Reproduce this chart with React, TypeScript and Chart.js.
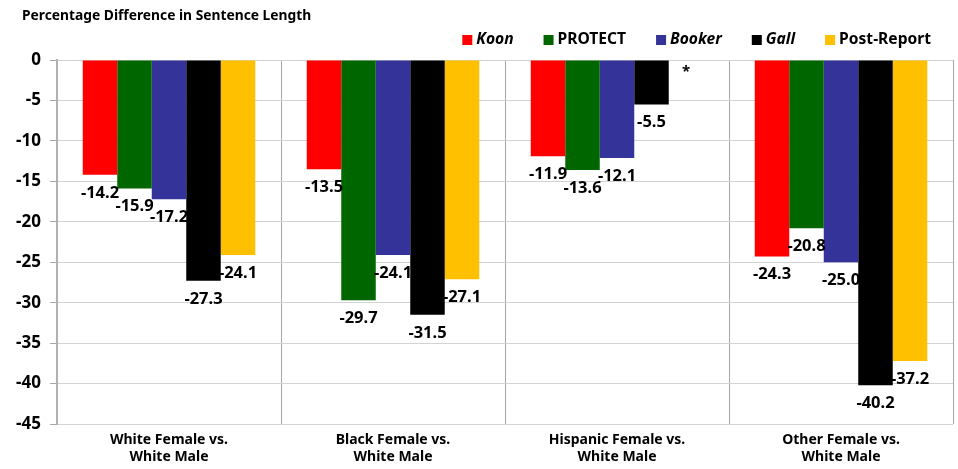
import React, { useEffect, useRef } from "react";
import { Chart, registerables } from "chart.js";

Chart.register(...registerables);

const categories: string[][] = [
  ["White Female vs.", "White Male"],
  ["Black Female vs.", "White Male"],
  ["Hispanic Female vs.", "White Male"],
  ["Other Female vs.", "White Male"],
];
const koon = [-14.2, -13.5, -11.9, -24.3];
const protect = [-15.9, -29.7, -13.6, -20.8];
const booker = [-17.2, -24.1, -12.1, -25.0];
const gall = [-27.3, -31.5, -5.5, -40.2];
const postReport: (number | null)[] = [-24.1, -27.1, null, -37.2];

const seriesNames = ["Koon", "PROTECT", "Booker", "Gall", "Post-Report"];
const seriesItalic = [true, false, true, true, false];
const seriesColors = ["#FF0000", "#006600", "#333399", "#000000", "#FFC000"];
const chartTitle = "Percentage Difference in Sentence Length";
const yMin = -45;
const yMax = 0;
const yStep = 5;

const FONT = "'Noto Sans', 'DejaVu Sans', sans-serif";

const labelPlugin = {
  id: "barLabels",
  afterDatasetsDraw(chart: any) {
    const ctx = chart.ctx;
    ctx.save();
    ctx.fillStyle = "#000";
    ctx.textAlign = "center";
    ctx.textBaseline = "middle";
    const zeroY = chart.scales.y.getPixelForValue(0);
    chart.data.datasets.forEach((ds: any, di: number) => {
      const meta = chart.getDatasetMeta(di);
      meta.data.forEach((el: any, i: number) => {
        const v = ds.data[i];
        if (v === null || v === undefined) {
          ctx.font = `bold 15px ${FONT}`;
          ctx.fillText("*", el.x, zeroY + 12);
          return;
        }
        ctx.font = `bold 16.5px ${FONT}`;
        ctx.fillText(v.toFixed(1), el.x, el.y + 18);
      });
    });
    ctx.restore();
  },
  afterDraw(chart: any) {
    const ctx = chart.ctx;
    ctx.save();
    ctx.fillStyle = "#000";
    ctx.textBaseline = "middle";
    ctx.textAlign = "left";
    ctx.font = `bold 13.8px ${FONT}`;
    ctx.fillText(chartTitle, 22, 16);
    const fonts = seriesNames.map((_, i) => `${seriesItalic[i] ? "italic " : ""}bold 15.6px ${FONT}`);
    const widths = seriesNames.map((n, i) => {
      ctx.font = fonts[i];
      return ctx.measureText(n).width;
    });
    const box = 10;
    const gapBox = 4;
    const gapItem = 30;
    let total = 0;
    widths.forEach((w, i) => {
      total += box + gapBox + w + (i < widths.length - 1 ? gapItem : 0);
    });
    let x = 931 - total;
    const y = 40;
    seriesNames.forEach((n, i) => {
      ctx.fillStyle = seriesColors[i];
      ctx.fillRect(x, y - 5, box, box);
      x += box + gapBox;
      ctx.fillStyle = "#000";
      ctx.font = fonts[i];
      ctx.fillText(n, x, y);
      x += widths[i] + gapItem;
    });
    ctx.restore();
  },
};

function App() {
  const ref = useRef<HTMLCanvasElement>(null);
  useEffect(() => {
    document.body.style.margin = "0";
    const series = [koon, protect, booker, gall, postReport];
    const chart = new Chart(ref.current!, {
      type: "bar",
      data: {
        labels: categories,
        datasets: series.map((d, i) => ({
          label: seriesNames[i],
          data: d,
          backgroundColor: seriesColors[i],
          borderWidth: 0,
          barPercentage: 1,
          categoryPercentage: 0.77,
        })),
      },
      options: {
        animation: false,
        responsive: false,
        maintainAspectRatio: false,
        layout: { padding: { top: 60, right: 5, left: 0, bottom: 0 } },
        plugins: {
          legend: { display: false },
          title: { display: false },
          tooltip: { enabled: false },
        },
        scales: {
          x: {
            grid: {
              offset: true,
              color: "#a6a6a6",
              lineWidth: 1,
              drawTicks: false,
            },
            border: { display: false },
            ticks: {
              color: "#000",
              font: { family: FONT, weight: "bold", size: 14 },
              padding: 8,
              maxRotation: 0,
            },
            afterFit: (s: any) => {
              s.height = 45;
            },
          },
          y: {
            min: yMin,
            max: yMax,
            ticks: {
              stepSize: yStep,
              color: "#000",
              font: { family: FONT, weight: "bold", size: 17 },
              padding: 9,
            },
            grid: {
              color: "#d3d3d3",
              borderDash: [2, 2],
              tickLength: 7,
              tickColor: "#a6a6a6",
              tickBorderDash: [],
            } as any,
            border: { display: true, color: "#b0b0b0", width: 2 },
            afterFit: (s: any) => {
              s.width = 57;
            },
          },
        },
      },
      plugins: [labelPlugin],
    });
    return () => chart.destroy();
  }, []);
  return (
    <div style={{ width: 958, height: 469 }}>
      <canvas ref={ref} width={958} height={469} />
    </div>
  );
}

export default App;
